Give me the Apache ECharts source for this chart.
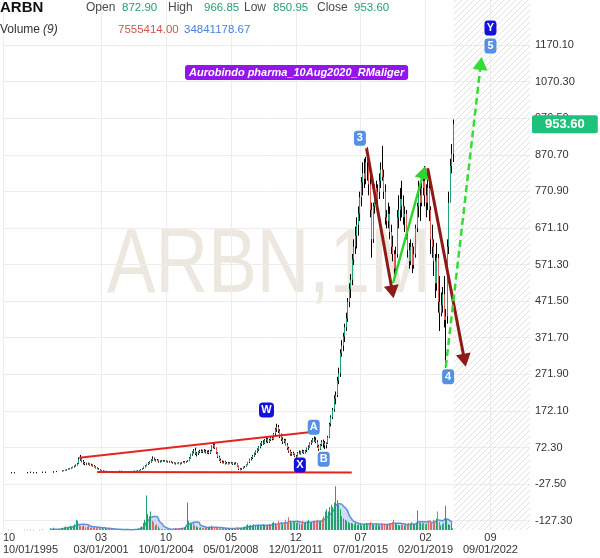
<!DOCTYPE html>
<html><head><meta charset="utf-8">
<script src="https://cdn.jsdelivr.net/npm/echarts@6/dist/echarts.min.js"></script>
<style>html,body{margin:0;padding:0;background:#fff}#c{width:600px;height:558px}</style>
</head><body><div id="c"></div>
<script>
// ---------------- data ----------------
const tickerName = 'ARBN';
const watermarkText = 'ARBN,1M';
const annotationTitle = 'Aurobindo pharma_10Aug2020_RMaliger';
const maPeriod = 9;

// sparse early prints (1996-1998)
const earlyMonths = ['1996-03','1996-05','1997-02','1997-04','1997-06','1997-08','1997-12','1998-02','1998-07','1998-09'];
const earlyPrice  = [5,5,5,6,5,5,6,6,7,8];
const earlyVolume = [1,1,1,1,1,1,1,2,8,10];

// continuous monthly candles from this month on
const startMonth = '1999-01';
const open = [
8,9,10,11,12,14,15,17,19,21,24,28,
40,42,34,30,27,29,27,25,24,22,19,16,
14,12,10,9,8,8,7,7,7,6,6,6,
7,7,7,8,8,7,7,6,6,6,7,7,
8,8,8,9,10,12,15,19,22,27,30,33,
37,42,39,37,38,34,35,36,35,36,34,33,
34,31,30,29,28,30,29,28,32,33,31,34,
36,44,53,60,64,56,55,60,63,61,64,62,
59,61,57,64,75,80,70,58,47,38,33,32,
34,29,31,28,30,31,27,29,28,22,14,12,
15,19,20,25,32,40,44,50,55,62,67,74,
82,86,84,92,95,88,93,98,96,110,122,128,
118,102,95,88,92,80,70,62,54,57,53,48,
50,58,56,60,62,58,64,70,74,84,88,95,
92,88,76,68,80,88,84,78,84,100,136,155,
175,205,215,255,275,330,350,375,400,425,470,505,
530,585,620,650,680,710,755,795,820,805,850,860,
790,720,640,730,780,745,770,800,830,810,770,700,
690,710,660,620,600,560,600,700,720,750,730,700,
710,650,610,580,620,570,600,670,730,760,740,780,
800,760,740,780,720,640,620,580,520,590,470,440,
460,490,420,430,620,740,840,872.9
];
const high = [
10,11,12,13,15,16,18,20,23,26,30,45,
52,46,38,33,31,31,29,28,26,24,21,18,
16,13,11,10,9,9,8,8,7,7,7,8,
8,8,9,9,8,8,7,7,7,8,8,9,
9,9,10,11,13,16,20,24,28,32,35,40,
48,45,41,41,39,37,38,38,38,37,36,36,
36,33,32,31,31,32,31,33,35,35,35,38,
46,55,62,68,72,60,62,66,67,66,68,66,
64,65,66,78,86,84,72,60,50,42,37,36,
36,33,33,32,33,32,31,32,29,23,16,16,
20,22,26,33,42,46,52,58,64,70,76,84,
90,92,95,100,98,96,102,104,112,126,137,134,
122,110,100,96,95,84,74,66,60,61,56,52,
60,64,62,66,65,66,72,78,86,92,98,102,
100,92,80,82,92,94,90,86,104,140,160,180,
215,225,265,290,340,365,385,410,440,480,520,545,
600,640,675,700,730,770,810,850,860,865,891,870,
820,740,740,790,800,790,820,850,895,830,790,720,
740,730,680,650,610,620,720,760,780,800,760,730,
720,670,630,640,630,620,680,740,800,790,800,830,
840,790,820,810,730,680,640,600,630,600,540,495,
510,540,450,640,770,860,900,966.85
];
const low = [
7,8,9,10,11,13,14,16,18,20,23,27,
36,32,26,24,24,25,23,22,20,18,15,13,
11,9,8,7,7,6,6,6,5,5,5,6,
6,6,7,7,6,6,5,5,5,6,6,7,
7,7,7,8,10,12,14,18,21,25,28,31,
35,37,34,35,31,31,33,33,34,32,31,31,
30,28,27,26,27,27,26,27,30,29,30,33,
35,42,50,56,52,48,52,57,58,57,59,56,
55,54,55,62,70,68,55,44,36,30,29,29,
26,27,26,27,28,25,25,26,20,11,10,11,
14,17,19,24,30,37,41,47,52,58,63,70,
76,80,82,86,84,85,90,92,94,106,115,112,
98,90,82,84,78,66,58,50,50,51,46,44,
48,54,53,57,55,56,60,66,72,80,86,88,
84,72,63,66,76,72,68,70,82,98,130,150,
170,190,210,245,265,320,335,360,390,415,455,480,
515,570,600,615,650,690,730,760,780,790,800,760,
700,590,630,710,720,730,750,780,800,750,680,670,
670,640,600,580,530,550,590,670,690,700,680,660,
640,590,560,570,548,560,590,660,700,690,730,760,
730,700,720,690,600,590,540,480,500,440,390,430,
440,400,290,410,600,740,820,850.95
];
const close = [
9,10,11,12,14,15,17,19,21,24,28,40,
42,34,30,27,29,27,25,24,22,19,16,14,
12,10,9,8,8,7,7,7,6,6,6,7,
7,7,8,8,7,7,6,6,6,7,7,8,
8,8,9,10,12,15,19,22,27,30,33,37,
42,39,37,38,34,35,36,35,36,34,33,34,
31,30,29,28,30,29,28,32,33,31,34,36,
44,53,60,64,56,55,60,63,61,64,62,59,
61,57,64,75,80,70,58,47,38,33,32,34,
29,31,28,30,31,27,29,28,22,14,12,15,
19,20,25,32,40,44,50,55,62,67,74,82,
86,84,92,95,88,93,98,96,110,122,128,118,
102,95,88,92,80,70,62,54,57,53,48,50,
58,56,60,62,58,64,70,74,84,88,95,92,
88,76,68,80,88,84,78,84,100,136,155,175,
205,215,255,275,330,350,375,400,425,470,505,530,
585,620,650,680,710,755,795,820,805,850,860,790,
720,640,730,780,745,770,800,830,810,770,700,690,
710,660,620,600,560,600,700,720,750,730,700,710,
650,610,580,620,570,600,670,730,760,740,780,800,
760,740,780,720,640,620,580,520,590,470,440,460,
490,420,430,620,740,840,873,953.6
];
// monthly volume, millions of shares
const volume = [
5,8,10,12,15,12,14,18,15,20,25,45,
40,25,18,15,20,12,14,18,10,12,15,10,
12,8,10,7,9,6,8,5,7,4,3,3,
2,2,3,2,2,1,2,1,1,2,1,2,
2,2,3,4,8,12,15,30,45,150,70,60,
80,40,35,20,25,15,5,4,3,3,2,2,
3,2,4,6,8,7,6,5,8,10,12,15,
120,40,30,25,35,20,15,12,10,12,8,10,
8,10,12,15,18,12,10,8,10,6,8,7,
8,6,5,7,6,5,6,8,10,12,8,6,
10,12,15,20,25,20,22,18,25,20,18,22,
20,18,25,22,20,18,25,22,30,35,28,20,
40,30,35,25,30,45,35,55,40,30,35,38,
30,35,28,25,40,30,35,38,45,30,35,40,
35,40,45,35,40,50,60,80,90,80,100,110,
100,120,190,130,110,90,60,50,45,40,35,30,
30,28,25,30,22,25,28,20,22,25,30,28,
30,35,25,22,20,25,22,20,30,25,28,22,
25,30,28,35,45,30,25,22,20,25,22,20,
22,25,30,28,35,25,22,30,85,40,30,28,
30,25,28,35,40,35,45,40,50,80,35,20,
25,30,105,48,25,22,31.015194,7.555414
];

// axis ticks
const xTickMonths = ['1995-10','2001-03','2004-10','2008-05','2011-12','2015-07','2019-02','2022-09'];
const yTickValues = [-127.3,-27.5,72.3,172.1,271.9,371.7,471.5,571.3,671.1,770.9,870.7,970.5,1070.3,1170.1];
const priceMin = -152.7, priceMax = 1292.8;
const monthMax = 349.2;
const futureStart = '2020-08-22';

// drawn annotations (date, price)
const trendLines = [
  {from:['1999-12-17',44.6], to:['2012-08-26',113.8]},
  {from:['2000-12-12',5.5],  to:['2015-01-04',4]}
];
const arrows = [
  {from:['2015-10-28',888.4], to:['2017-04-02',496.7], kind:'down'},
  {from:['2017-04-14',520.2], to:['2018-12-22',822.9], kind:'up'},
  {from:['2019-03-13',833.8], to:['2021-03-25',310.2], kind:'down'},
  {from:['2020-03-13',291.9], to:['2022-02-19',1119.6], kind:'projection'}
];
const badges = [
  {text:'3', at:['2015-06-16',915.6], dark:false},
  {text:'4', at:['2020-04-29',265.5], dark:false},
  {text:'5', at:['2022-09-01',1167.4], dark:false},
  {text:'Y', at:['2022-09-01',1216.5], dark:true},
  {text:'W', at:['2010-04-19',174.6], dark:true},
  {text:'X', at:['2012-02-22',24.6], dark:true},
  {text:'A', at:['2012-11-28',127.5], dark:false},
  {text:'B', at:['2013-06-16',40.2], dark:false}
];

// ---------------- build ----------------
const F = '"Liberation Sans", Arial, Helvetica, sans-serif';
function toM(s){ const p = s.split('-').map(Number); return (p[0]-1995)*12 + (p[1]-10) + ((p[2]||1)-1)/30; }
const m0 = toM(startMonth);

const candles = [];
const volBars = [];
earlyMonths.forEach((d,i)=>{
  const m = toM(d), p = earlyPrice[i];
  candles.push([m,p,p,p,p]);
  volBars.push([m, earlyVolume[i], 1]);
});
open.forEach((o,i)=>{
  const m = m0 + i;
  candles.push([m, o, high[i], low[i], close[i]]);
  volBars.push([m, volume[i], close[i] >= o ? 1 : 0]);
});
const maData = [];
for (let i = maPeriod-1; i < volBars.length; i++) {
  let s = 0; for (let k = i-maPeriod+1; k <= i; k++) s += volBars[k][1];
  maData.push([volBars[i][0], s/maPeriod]);
}
const last = open.length - 1;
const lastVol = volume[last];
const lastMa = maData[maData.length-1][1];

// hatch pattern
const hatch = document.createElement('canvas');
hatch.width = 6; hatch.height = 6;
(function(){ const c = hatch.getContext('2d'); c.strokeStyle = '#e2e2e2'; c.lineWidth = 1;
  c.beginPath(); c.moveTo(0,6); c.lineTo(6,0); c.moveTo(-1,1); c.lineTo(1,-1); c.moveTo(5,7); c.lineTo(7,5); c.stroke(); })();

const GREEN = '#25a176', RED = '#e0605b';
const markLineData = [];
trendLines.forEach(t => markLineData.push([
  {coord:[toM(t.from[0]), t.from[1]], symbol:'none', lineStyle:{color:'#e52420', width:2, type:'solid'}},
  {coord:[toM(t.to[0]), t.to[1]], symbol:'none'}
]));
arrows.forEach(a => {
  const col = a.kind === 'down' ? '#8e1a17' : (a.kind === 'up' ? '#2fd52f' : '#33dd33');
  const w = a.kind === 'down' ? 3 : 2.5;
  markLineData.push([
    {coord:[toM(a.from[0]), a.from[1]], symbol:'none', lineStyle:{color:col, width:w, type: a.kind==='projection' ? [7,4] : 'solid'}},
    {coord:[toM(a.to[0]), a.to[1]], symbol:'triangle', symbolSize:[15,13], itemStyle:{color:col}}
  ]);
});
markLineData.push({yAxis: close[last], symbol:'none', lineStyle:{color:'rgba(0,0,0,0)', width:1, opacity:1},
  label:{show:true, position:'end', distance:2, opacity:1, formatter: close[last].toFixed(2), color:'#fff', fontWeight:'bold', fontSize:13,
    fontFamily:F, backgroundColor:'#1cc27b', padding:[3,13,2,13], borderRadius:2}});

const markPointData = badges.map(b => ({
  coord:[toM(b.at[0]), b.at[1]], symbol:'roundRect', symbolSize:[b.text==='W'?15:12, 15],
  itemStyle:{color: b.dark ? '#1212d8' : '#5590e3'},
  label:{show:true, position:'inside', formatter:b.text, color:'#fff', fontWeight:'bold', fontSize:11, fontFamily:F}
}));

function hdr(text, left, top, color, extra){
  return Object.assign({text:text, left:left, top:top, padding:0,
    textStyle:Object.assign({fontSize:12, fontWeight:'normal', color:color, fontFamily:F, lineHeight:14}, extra||{})});
}
const LBL = '#4a4a4a', VAL = '#24a06c';
const VS = {fontSize:11.5};

const option = {
  animation:false,
  backgroundColor:'#fff',
  textStyle:{fontFamily:F},
  title:[
    hdr(tickerName, 0, 0, '#111', {fontSize:15, fontWeight:'bold', lineHeight:16}),
    hdr('Open', 86, 1, LBL), hdr(open[last].toFixed(2), 122, 1, VAL, VS),
    hdr('High', 168, 1, LBL), hdr(high[last].toFixed(2), 204, 1, VAL, VS),
    hdr('Low', 244, 1, LBL), hdr(low[last].toFixed(2), 273, 1, VAL, VS),
    hdr('Close', 317, 1, LBL), hdr(close[last].toFixed(2), 354, 1, VAL, VS),
    hdr('Volume', 0, 23, '#333'), hdr('(' + maPeriod + ')', 43, 23, '#333', {fontStyle:'italic'}),
    hdr((lastVol*1e6).toFixed(2), 118, 23, '#cf5450', VS), hdr((lastMa*1e6).toFixed(2), 184, 23, '#4a80d6', VS),
    {text:annotationTitle, left:185, top:65, padding:[1,4,1,4], backgroundColor:'#9414ec', borderRadius:3,
     textStyle:{color:'#fff', fontStyle:'italic', fontWeight:'bold', fontSize:11, lineHeight:13, fontFamily:F}}
  ],
  graphic:[{type:'text', x:107, y:221, scaleX:0.8, z:0, silent:true,
    style:{text:watermarkText, x:0, y:0, fill:'#ede8df', font:'91px ' + F, textVerticalAlign:'top', verticalAlign:'top'}}],
  grid:[
    {left:-2, right:70, top:0, bottom:28},
    {left:-2, right:70, top:484, bottom:28}
  ],
  xAxis:[
    {type:'value', gridIndex:0, min:0, max:monthMax,
     axisLine:{show:false}, axisTick:{show:false, customValues: xTickMonths.map(toM)},
     splitLine:{show:true, lineStyle:{color:'#ececec', width:1}},
     axisLabel:{customValues: xTickMonths.map(toM), color:'#333', fontSize:11, lineHeight:12, margin:2, alignMinLabel:'left',
       formatter:function(v){ const tot = Math.round(v) + 9; const y = 1995 + Math.floor(tot/12); const mo = (tot%12)+1;
         const mm = (mo<10?'0':'') + mo; return mm + '\n' + mm + '/01/' + y; }}},
    {type:'value', gridIndex:1, min:0, max:monthMax, show:false}
  ],
  yAxis:[
    {type:'value', gridIndex:0, position:'right', min:priceMin, max:priceMax,
     axisLine:{show:false}, axisTick:{show:false, customValues:yTickValues},
     splitLine:{show:true, lineStyle:{color:'#ececec', width:1}},
     axisLabel:{customValues:yTickValues, color:'#333', fontSize:11, margin:5, formatter:v => v.toFixed(2)}},
    {type:'value', gridIndex:1, min:0, max:200, show:false}
  ],
  series:[
    {type:'line', name:'VolMA', xAxisIndex:1, yAxisIndex:1, data:maData, showSymbol:false, smooth:0.4, z:2,
     lineStyle:{color:'#5f8fdc', width:1.5}, areaStyle:{color:'rgba(118,158,232,0.5)'}},
    {type:'custom', name:'Volume', xAxisIndex:1, yAxisIndex:1, data:volBars, encode:{x:0, y:1}, z:3,
     renderItem:function(params, api){
       const m = api.value(0), v = api.value(1);
       const top = api.coord([m, v]), base = api.coord([m, 0]);
       const x = Math.round(top[0]);
       return {type:'rect', shape:{x:x, y:top[1], width:1, height:Math.max(0.5, base[1]-top[1])},
         style:{fill: api.value(2) ? '#21a36b' : '#e06a6a'}};
     }},
    {type:'custom', name:tickerName, xAxisIndex:0, yAxisIndex:0, data:candles, encode:{x:0, y:[1,2,3,4]}, z:4,
     renderItem:function(params, api){
       const m = api.value(0), o = api.value(1), h = api.value(2), l = api.value(3), c = api.value(4);
       const pH = api.coord([m,h]), pL = api.coord([m,l]), pO = api.coord([m,o]), pC = api.coord([m,c]);
       const x = Math.round(pH[0]) + 0.5;
       const top = Math.min(pO[1], pC[1]);
       const bh = Math.max(1, Math.abs(pO[1]-pC[1]));
       const col = c > o ? GREEN : (c < o ? RED : '#111');
       return {type:'group', children:[
         {type:'line', shape:{x1:x, y1:pH[1], x2:x, y2:Math.max(pL[1], pH[1]+1)}, style:{stroke:'#000', lineWidth:1}},
         {type:'rect', shape:{x:x-0.5, y:top, width:1, height:bh}, style:{fill:col}}
       ]};
     },
     markArea:{silent:true, itemStyle:{color:{image:hatch, repeat:'repeat'}},
       data:[[{xAxis:toM(futureStart)}, {xAxis:monthMax}]]},
     markLine:{silent:true, animation:false, label:{show:false}, symbol:['none','none'], data:markLineData},
     markPoint:{silent:true, animation:false, data:markPointData}
    }
  ]
};
const chart = echarts.init(document.getElementById('c'), null, {renderer:'canvas', width:600, height:558});
chart.setOption(option);
</script></body></html>
